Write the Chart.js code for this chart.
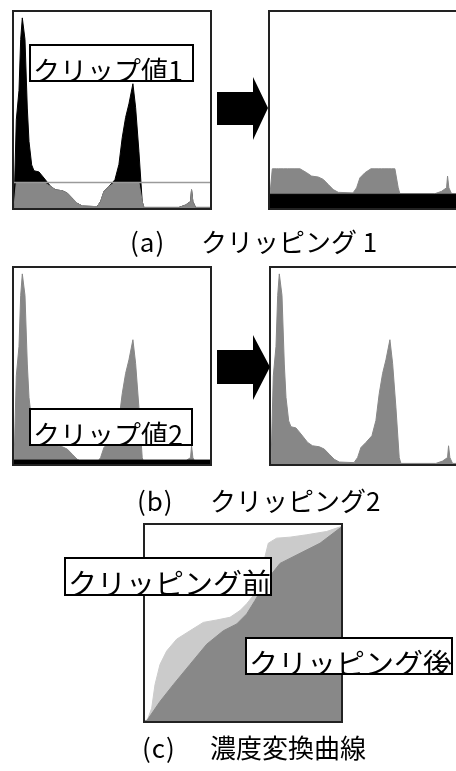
<!DOCTYPE html>
<html>
<head>
<meta charset="utf-8">
<script src="https://cdn.jsdelivr.net/npm/chart.js"></script>
<style>
  body { margin:0; width:456px; height:771px; overflow:hidden; position:relative; background:#fff;
         font-family:"Noto Sans CJK JP","Noto Sans",sans-serif; color:#000; }
  .box { position:absolute; width:196px; height:196px; border:2px solid #222; }
  .box canvas { display:block; }
  .lbl { position:absolute; box-sizing:border-box; border:2px solid #000; background:#fff;
         white-space:nowrap; overflow:hidden; line-height:1; padding-left:2px; z-index:5; }
  .cap { position:absolute; font-size:26px; line-height:26px; white-space:nowrap; }
  svg { position:absolute; left:0; top:0; }
</style>
</head>
<body>

<div class="box" style="left:12px;top:10px"><canvas id="aL" width="196" height="196"></canvas></div>
<div class="box" style="left:268px;top:10px"><canvas id="aR" width="196" height="196"></canvas></div>
<div class="box" style="left:12px;top:266px"><canvas id="bL" width="196" height="196"></canvas></div>
<div class="box" style="left:269px;top:266px"><canvas id="bR" width="196" height="196"></canvas></div>
<div class="box" style="left:143px;top:523px"><canvas id="cC" width="196" height="196"></canvas></div>

<svg width="456" height="771">
  <polygon points="217,92 253,92 253,77 268,108 253,140 253,125 217,125" fill="#000"/>
  <polygon points="217,350 253,350 253,335 270,367 253,400 253,384 217,384" fill="#000"/>
</svg>

<div class="lbl" style="left:29px;top:44px;width:165px;height:38px;font-size:27px;padding-top:10px">クリップ値1</div>
<div class="lbl" style="left:29px;top:408px;width:164px;height:38px;font-size:27px;padding-top:10px">クリップ値2</div>
<div class="lbl" style="left:64px;top:557px;width:208px;height:39px;font-size:29px;padding-top:9px">クリッピング前</div>
<div class="lbl" style="left:245px;top:637px;width:208px;height:38px;font-size:29px;padding-top:9px">クリッピング後</div>

<div class="cap" style="left:130px;top:228px;letter-spacing:1px">(a)</div>
<div class="cap" style="left:201px;top:228px">クリッピング 1</div>
<div class="cap" style="left:137px;top:487px;letter-spacing:1px">(b)</div>
<div class="cap" style="left:210px;top:487px">クリッピング2</div>
<div class="cap" style="left:142px;top:734px;letter-spacing:1px">(c)</div>
<div class="cap" style="left:210px;top:734px">濃度変換曲線</div>

<script>
// histogram (gray level 0-255, relative count 0-100)
const levels = [0, 3, 6.5, 8.7, 10.8, 14.3, 17.3, 19.5, 23, 26, 32.5, 39, 47.7, 54, 62.8, 69.3, 75.8, 82.3, 88.8, 108,
                112.7, 117, 123.5, 131.3, 136.5, 140.8, 145.2, 149.5, 154.7, 158.2, 162.5, 166.8, 169, 214.5, 223.2, 229.7, 231, 232.7, 236.2, 255];
const counts = [0, 45, 60, 86, 97, 86, 51, 34, 22, 19, 18.4, 15.3, 11, 9.3, 8.8, 7.6, 5, 2.4, 1, 0.7,
                3.3, 8.4, 11, 14.4, 22.2, 35.9, 46.2, 53.1, 63.4, 51.4, 29, 3.3, 0.3, 0.3, 1.5, 3.3, 9.3, 3.3, 0.3, 0.3];
const clip1 = 13;
const excess1 = 7;
const excess2 = 2;

// tone curves (input level -> output level)
const beforeLevels = [0, 3, 8.7, 13, 19.5, 28.2, 41.2, 58.5, 75.9, 93.2, 110.6, 123.6, 132.3, 141, 149.6, 156.1, 160.4, 171.3, 188.6, 210.4, 236.4, 255];
const beforeValues = [0, 1.3, 16.6, 47.3, 73.6, 91.1, 106.5, 117.4, 128.3, 131.4, 134.9, 143.7, 152.5, 163.4, 183.1, 213.7, 231.3, 237.9, 239.2, 242.3, 246.6, 253];
const afterLevels = [0, 3, 19.5, 36.8, 58.5, 80.3, 101.9, 119.3, 132.3, 143.1, 158.3, 175.6, 201.7, 227.7, 255];
const afterValues = [0, 1.3, 25.4, 47.3, 73.6, 99.9, 117.4, 126.2, 139.3, 156.8, 183.1, 205, 218.2, 231.3, 252];

const GRAY = '#878787';

function pts(xs, ys){
    return xs.map((x,i)=>({x:x, y:ys[i]}));
}

function area(data, color){
    return {data:data, borderColor:color, backgroundColor:color, borderWidth:1,
            pointRadius:0, fill:'origin', tension:0};
}

function makeChart(id, datasets, ymax){
    new Chart(document.getElementById(id), {
        type:'line',
        data:{datasets:datasets},
        options:{
            responsive:false,
            animation:false,
            layout:{padding:0},
            plugins:{legend:{display:false}, tooltip:{enabled:false}},
            scales:{
                x:{type:'linear', min:0, max:255, display:false},
                y:{min:0, max:ymax, display:false}
            }
        }
    });
}

const clipped = counts.map((c)=>Math.min(c, clip1));

// (a) left: clip line on top, clipped part gray, excess black
makeChart('aL', [
    {data:[{x:0,y:clip1},{x:255,y:clip1}], borderColor:'#9a9a9a', borderWidth:1.5, pointRadius:0, fill:false},
    area(pts(levels, clipped), GRAY),
    area(pts(levels, counts), '#000')
], 100);

// (a) right: excess redistributed as black band
makeChart('aR', [
    area(pts([0,255],[excess1,excess1]), '#000'),
    area(pts(levels, clipped.map((c)=>c+excess1)), GRAY)
], 100);

// (b)
makeChart('bL', [
    area(pts([0,255],[excess2,excess2]), '#000'),
    area(pts(levels, counts), GRAY)
], 100);
makeChart('bR', [
    area(pts(levels, counts), GRAY)
], 100);

// (c)
makeChart('cC', [
    area(pts(afterLevels, afterValues), '#888'),
    area(pts(beforeLevels, beforeValues), '#cbcbcb')
], 255);
</script>
</body>
</html>
